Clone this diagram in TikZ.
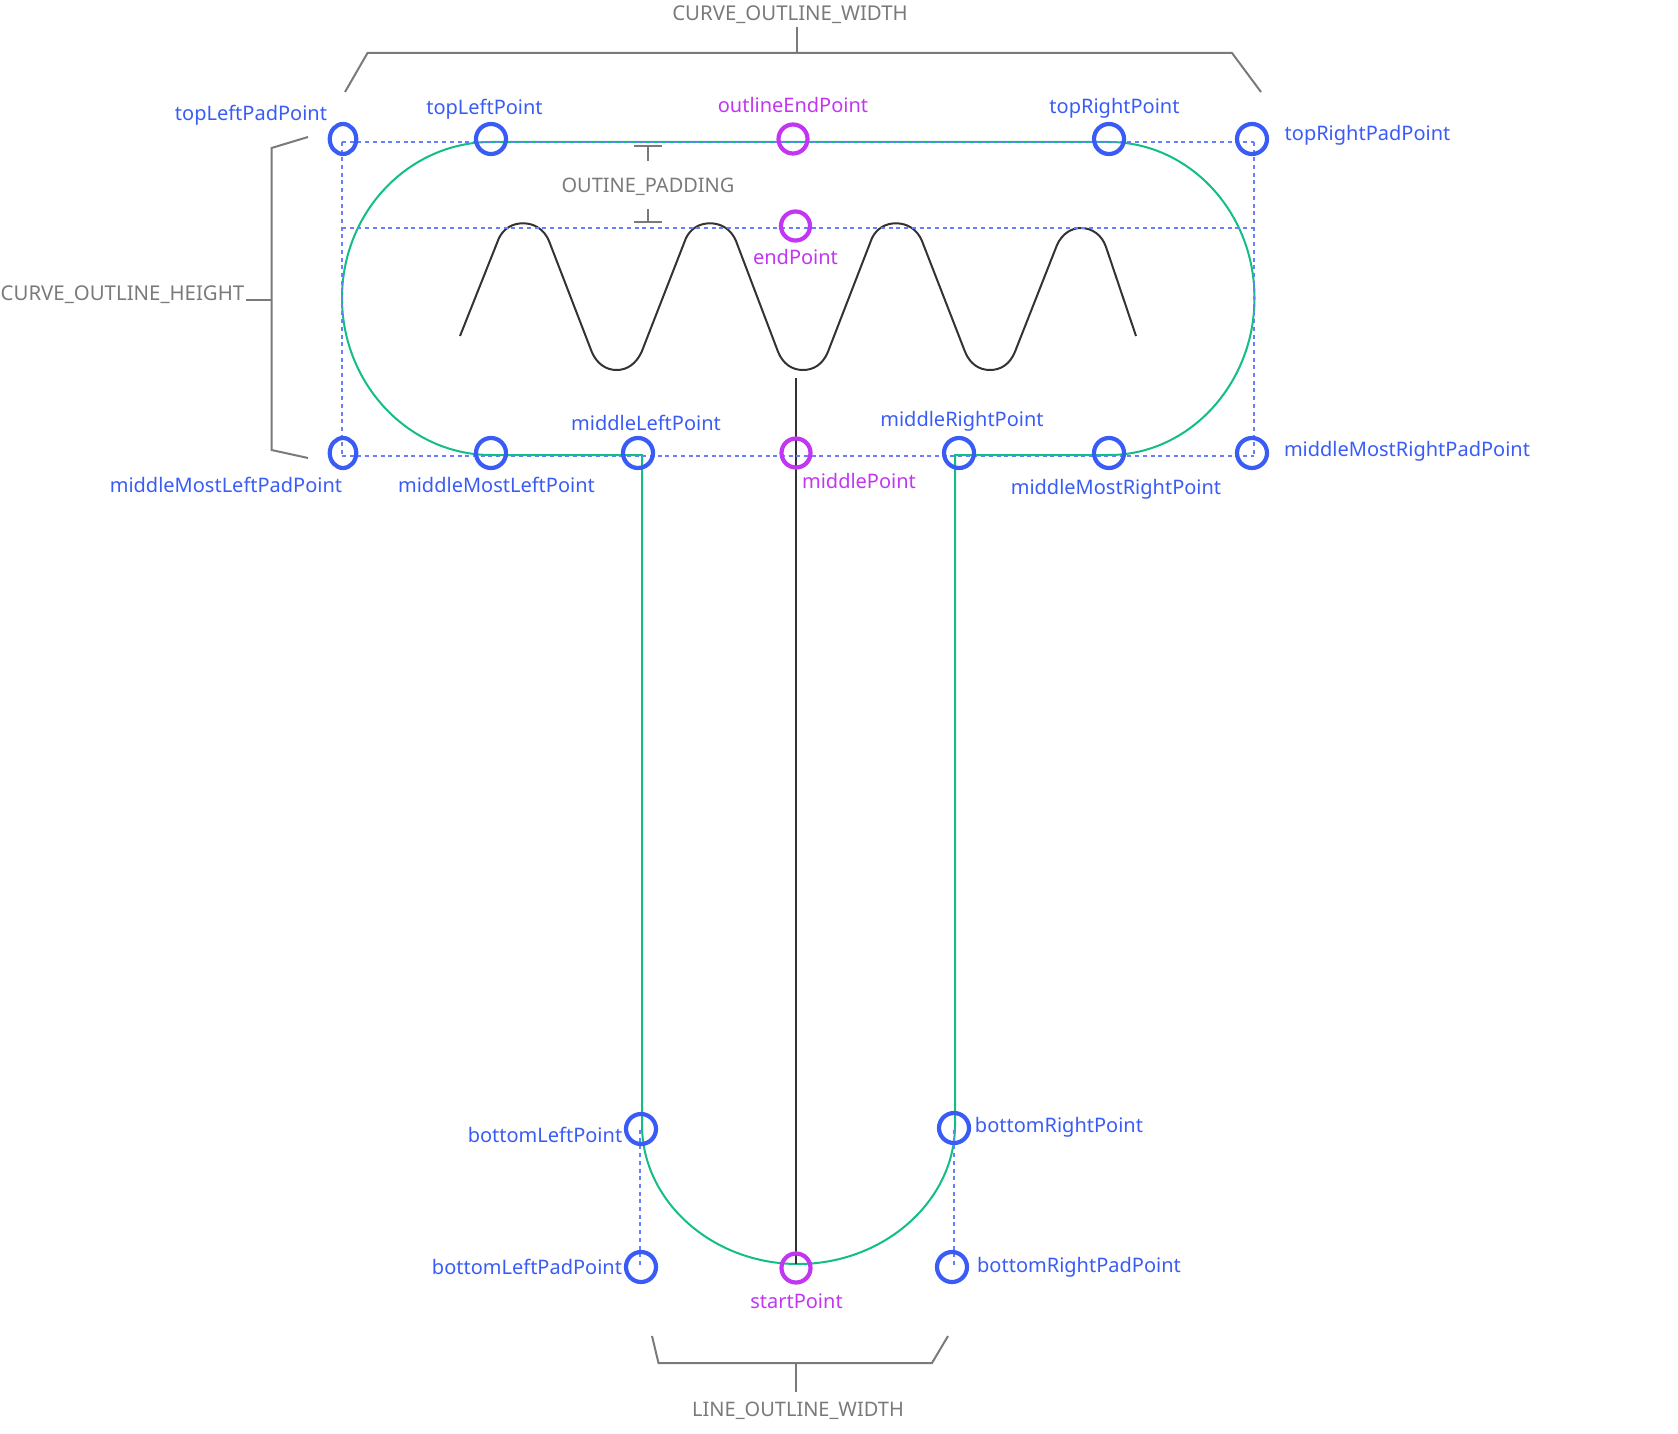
\documentclass[tikz,border=0pt]{standalone}
\usepackage{fontspec}
\usetikzlibrary{shapes.geometric}
\setmainfont{Noto Sans}
\definecolor{ptblue}{HTML}{3A5CF6}
\definecolor{ptpurple}{HTML}{C235F2}
\definecolor{dashblue}{HTML}{6680FB}
\definecolor{outgreen}{HTML}{12BD86}
\definecolor{dimgray}{HTML}{7A7A7A}
\definecolor{wavedark}{HTML}{333333}
\tikzset{
	ptcircle/.style={circle, draw=ptblue, line width=4.2pt, minimum size=30pt, inner sep=0pt},
	padoval/.style={ellipse, draw=ptblue, line width=4.2pt, minimum width=26.5pt, minimum height=30pt, inner sep=0pt},
	midcircle/.style={ptcircle, draw=ptpurple, minimum size=29pt},
	guide/.style={draw=dashblue, line width=2pt, dash pattern=on 4pt off 3.7pt},
	outline/.style={draw=outgreen, line width=2pt},
	dim/.style={draw=dimgray, line width=2pt},
	wave/.style={draw=wavedark, line width=2pt},
	ptlabel/.style={text=ptblue, font=\fontsize{20}{24}\selectfont, inner sep=0pt, text height=19.5pt, text depth=4pt},
	midlabel/.style={ptlabel, text=ptpurple},
	dimlabel/.style={ptlabel, text=dimgray},
	curvelabel/.style={dimlabel, font=\fontsize{20.4}{24}\selectfont},
}
\begin{document}
\begin{tikzpicture}[x=1pt, y=-1pt]
	\useasboundingbox (0,0) rectangle (1678,1434);
	% guide ends
	\foreach \x/\y/\name in {342/142/gTL,1254/142/gTR,342/228/gEL,1254/228/gER,342/455.5/gML,1254/455.5/gMR,640/1130/gBL,640/1265/gBLP,954/1130/gBR,954/1265/gBRP}{
		\coordinate (\name) at (\x,\y);
	}
	% outline
	\draw[outline] (642,1125) -- (642,455) -- (491,455)
		.. controls (409,455) and (342,384) .. (342,298)
		.. controls (342,212) and (409,142) .. (491,142)
		-- (1109,142)
		.. controls (1189,142) and (1254.5,212) .. (1254.5,298)
		.. controls (1254.5,384) and (1189,455) .. (1109,455)
		-- (955,455) -- (955,1125)
		.. controls (955,1201) and (884,1264) .. (798,1264)
		.. controls (712,1264) and (642,1201) .. (642,1125);
	% wave
	\draw[wave] (460,336) -- (499,238)
		.. controls (504,228) and (513,223.3) .. (523,223.3)
		.. controls (534,223.3) and (544,229) .. (549,241) -- (591.7,351.7)
		.. controls (597,364) and (606,370) .. (616.7,370)
		.. controls (627,370) and (636,364) .. (641.7,351.7) -- (686,238)
		.. controls (691,228) and (700,223.3) .. (710,223.3)
		.. controls (721,223.3) and (731,229) .. (736,241) -- (778,351.7)
		.. controls (783,364) and (792,370) .. (803,370)
		.. controls (814,370) and (823,364) .. (828,351.7) -- (872,238)
		.. controls (877,228) and (886,223.3) .. (896,223.3)
		.. controls (907,223.3) and (917,229) .. (922,241) -- (965,351.7)
		.. controls (970,364) and (979,370) .. (990,370)
		.. controls (1001,370) and (1010,364) .. (1015,351.7) -- (1057,245)
		.. controls (1062,234) and (1071,228) .. (1081,228)
		.. controls (1092,228) and (1102,235) .. (1106,247) -- (1136,336);
	\coordinate (lineTop) at (796,378);
	\coordinate (lineEnd) at (796,1264);
	\draw[wave] (lineTop) -- (lineEnd);
	% guides
	\draw[guide] (gTL) -- (gTR);
	\draw[guide] (gEL) -- (gER);
	\draw[guide] (gML) -- (gMR);
	\draw[guide] (gTL) -- (gML);
	\draw[guide] (gTR) -- (gMR);
	\draw[guide] (gBL) -- (gBLP);
	\draw[guide] (gBR) -- (gBRP);
	% points
	\foreach \x/\y/\name in {491/139/topLeft,1109/139/topRight,1252/139/topRightPad,491/453/middleMostLeft,638/453/middleLeft,959/453/middleRight,1109/453/middleMostRight,1252/453/middleMostRightPad,641/1129/bottomLeft,954/1128/bottomRight,641/1267/bottomLeftPad,952/1267/bottomRightPad}{
		\node[ptcircle] (\name) at (\x,\y) {};
	}
	\foreach \x/\y/\name in {343/139/topLeftPad,343/453/middleMostLeftPad}{
		\node[padoval] (\name) at (\x,\y) {};
	}
	\foreach \x/\y/\name in {793/139/outlineEnd,795.5/226/endPt,796/453/middle,796/1268/start}{
		\node[midcircle] (\name) at (\x,\y) {};
	}
	% labels
	\foreach \x/\y/\txt in {251/113/topLeftPadPoint,484.5/107/topLeftPoint,1114.5/106/topRightPoint,1367.5/133/topRightPadPoint,646/423/middleLeftPoint,962/419/middleRightPoint,1407/449/middleMostRightPadPoint,1116/487/middleMostRightPoint,226/485/middleMostLeftPadPoint,496.5/485/middleMostLeftPoint,545/1135/bottomLeftPoint,527/1267/bottomLeftPadPoint,1059/1125/bottomRightPoint,1079/1265/bottomRightPadPoint}{
		\node[ptlabel] (lbl\txt) at (\x,\y) {\txt};
	}
	\foreach \x/\y/\txt in {793/105/outlineEndPoint,795.5/257/endPoint,859/481/middlePoint,796.5/1301/startPoint}{
		\node[midlabel] (lbl\txt) at (\x,\y) {\txt};
	}
	\node[curvelabel] (curveWidth) at (790,13) {CURVE\_OUTLINE\_WIDTH};
	\node[curvelabel] (curveHeight) at (122.5,293) {CURVE\_OUTLINE\_HEIGHT};
	\node[dimlabel] (padding) at (648,185) {OUTINE\_PADDING};
	\node[dimlabel] (lineWidth) at (798,1409) {LINE\_OUTLINE\_WIDTH};
	% brackets
	\draw[dim] (345,92) -- (367.5,53) -- (1232,53) -- (1261,92);
	\coordinate (topJoin) at (797,53);
	\coordinate (topStem) at (797,27);
	\draw[dim] (topStem) -- (topJoin);
	\draw[dim] (308,137) -- (271.5,148) -- (271.5,450) -- (308,458);
	\coordinate (leftJoin) at (271.5,299.5);
	\coordinate (leftStem) at (246,299.5);
	\draw[dim] (leftStem) -- (leftJoin);
	\draw[dim] (652,1336) -- (658.5,1363) -- (932,1363) -- (948,1336);
	\coordinate (botJoin) at (796,1363);
	\coordinate (botStem) at (796,1392);
	\draw[dim] (botJoin) -- (botStem);
	% padding marks
	\draw[dim] (633.5,146) -- (661.5,146);
	\coordinate (padTop) at (647.5,146);
	\coordinate (padTopEnd) at (647.5,161);
	\draw[dim] (padTop) -- (padTopEnd);
	\draw[dim] (633.5,222) -- (661.5,222);
	\coordinate (padBot) at (647.5,222);
	\coordinate (padBotEnd) at (647.5,209);
	\draw[dim] (padBot) -- (padBotEnd);
\end{tikzpicture}
\end{document}
